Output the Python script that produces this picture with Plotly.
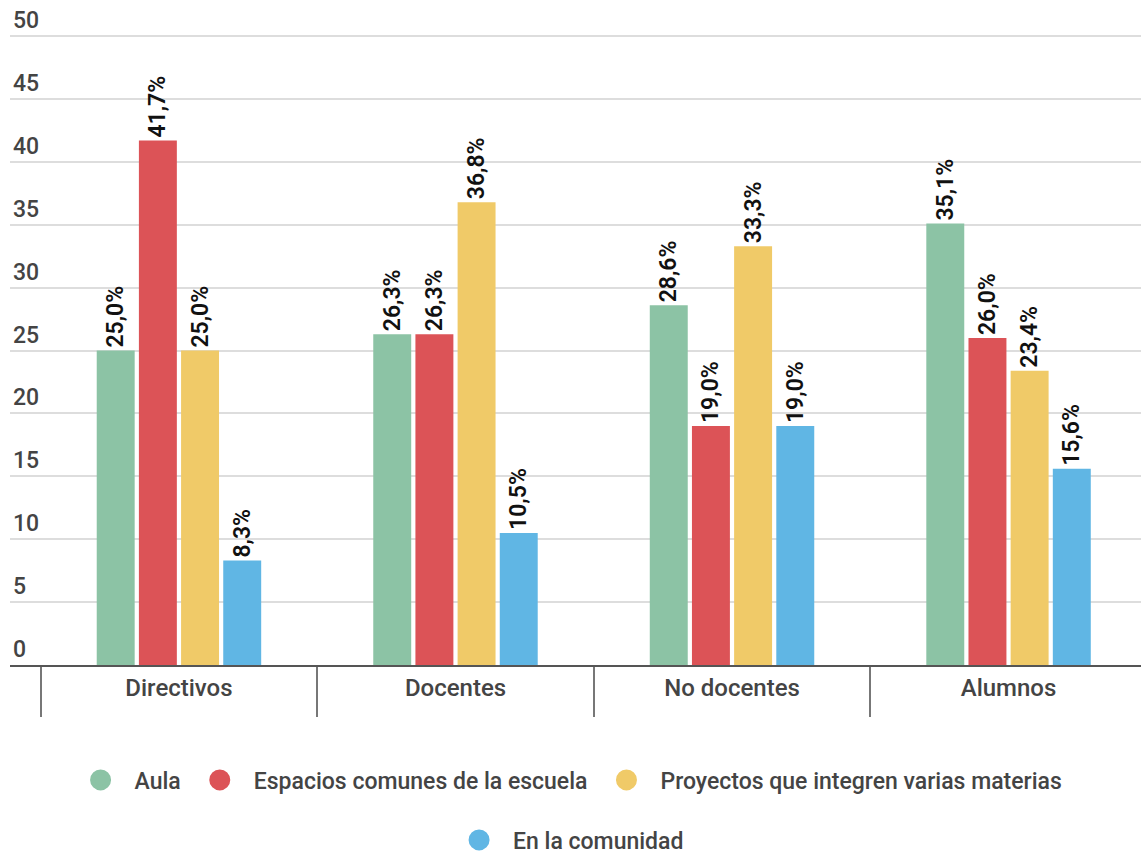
import plotly.graph_objects as go

categories = ["Directivos", "Docentes", "No docentes", "Alumnos"]
series_names = ["Aula", "Espacios comunes de la escuela",
                "Proyectos que integren varias materias", "En la comunidad"]
aula = [25.0, 26.3, 28.6, 35.1]
espacios = [41.7, 26.3, 19.0, 26.0]
proyectos = [25.0, 36.8, 33.3, 23.4]
comunidad = [8.3, 10.5, 19.0, 15.6]
y_ticks = [0, 5, 10, 15, 20, 25, 30, 35, 40, 45, 50]

colors = ["#8CC3A5", "#DC5357", "#F0CA68", "#60B6E4"]
values = [aula, espacios, proyectos, comunidad]

FONT = "Roboto"
TXT = "#444444"
fig = go.Figure()
for name, vals, col in zip(series_names, values, colors):
    fig.add_trace(go.Bar(
        x=categories, y=vals, name=name,
        marker=dict(color=col, line=dict(width=0)),
        text=[f"{v:.1f}%".replace(".", ",") for v in vals],
        textposition="outside", textangle=-90, constraintext="none",
        textfont=dict(family=FONT, size=23, color="#111", weight=600),
        cliponaxis=False, showlegend=False,
    ))

# legend entries (circle markers)
for i, (name, col) in enumerate(zip(series_names, colors)):
    fig.add_trace(go.Scatter(
        x=[None], y=[None], mode="markers", name=name,
        marker=dict(symbol="circle", size=16, color=col,
                    line=dict(color=col, width=5)),
        legend="legend" if i < 3 else "legend2",
    ))

legend_common = dict(orientation="h", xref="container", yref="container",
                     xanchor="center", yanchor="middle", itemwidth=58,
                     font=dict(family=FONT, size=23, color=TXT, weight=500),
                     itemsizing="trace")
fig.update_layout(
    width=1141, height=856,
    margin=dict(l=10, r=0, t=1, b=191, autoexpand=False),
    paper_bgcolor="white", plot_bgcolor="white",
    barmode="group", bargap=0.39, bargroupgap=0.1,
    font=dict(family=FONT, size=23, color=TXT),
    legend=dict(x=0.497, y=0.0888, **legend_common),
    legend2=dict(x=0.497, y=0.0187, **legend_common),
)
fig.update_xaxes(
    range=[-0.611, 3.479], showgrid=False,
    showline=True, linecolor="#555", linewidth=2,
    ticks="outside", tickson="boundaries", ticklen=50, tickwidth=2,
    tickcolor="#777", ticklabelstandoff=0, tickangle=0,
    tickfont=dict(family=FONT, size=24, color=TXT, weight=500),
)
fig.update_yaxes(
    range=[0, 52.8], tickvals=y_ticks,
    showgrid=True, gridcolor="#DDDDDD", gridwidth=2,
    zeroline=False, showline=False,
    ticklabelposition="inside top",
    tickfont=dict(family=FONT, size=23, color=TXT, weight=500),
)
fig.write_html("out.html",
               config={"displayModeBar": False},
               post_script="document.body.style.margin='0px';")
